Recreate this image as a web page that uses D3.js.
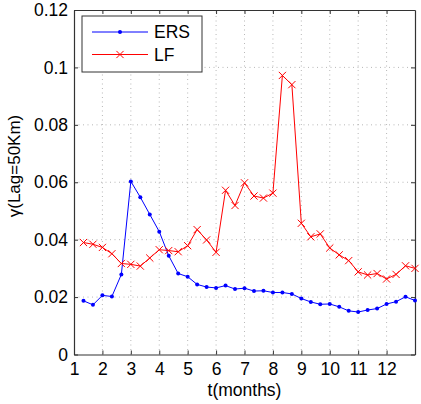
<!DOCTYPE html>
<html>
<head>
<meta charset="utf-8">
<script src="https://cdn.jsdelivr.net/npm/d3@7"></script>
<style>
  body { margin: 0; background: #fff; }
  text { font-family: "Liberation Sans", Arial, sans-serif; fill: #000; }
</style>
</head>
<body>
<div id="chart"></div>
<script>
// three samples per month, month 1 + 1/3 .. 13
const steps = d3.range(1, 37);
const ersValues = [0.0187, 0.0173, 0.0206, 0.0202, 0.0279, 0.0603, 0.0548, 0.0488, 0.0428, 0.0344,
  0.0282, 0.0271, 0.0244, 0.0235, 0.0232, 0.0240, 0.0228, 0.0231, 0.0221, 0.0222,
  0.0216, 0.0216, 0.0211, 0.0195, 0.0183, 0.0175, 0.0176, 0.0166, 0.0152, 0.0148,
  0.0155, 0.0160, 0.0176, 0.0184, 0.0201, 0.0188];
const lfValues = [0.0390, 0.0384, 0.0373, 0.0351, 0.0317, 0.0314, 0.0308, 0.0336, 0.0365, 0.0362,
  0.0358, 0.0379, 0.0435, 0.0399, 0.0356, 0.0572, 0.0519, 0.0598, 0.0552, 0.0545,
  0.0562, 0.0972, 0.0940, 0.0457, 0.0410, 0.0420, 0.0371, 0.0347, 0.0327, 0.0288,
  0.0277, 0.0282, 0.0263, 0.0279, 0.0309, 0.0300];
const xTicks = d3.range(1, 13);
const yTicks = [0, 0.02, 0.04, 0.06, 0.08, 0.1, 0.12];

const width = 421, height = 404;
const margin = { top: 10, right: 6, bottom: 49.5, left: 74 };
const fontSize = "17.5px";

const svg = d3.select("#chart").append("svg")
  .attr("width", width)
  .attr("height", height);

const x = d3.scaleLinear().domain([1, 13]).range([margin.left, width - margin.right]);
const y = d3.scaleLinear().domain([0, 0.12]).range([height - margin.bottom, margin.top]);

const ers = steps.map((s, i) => ({ t: 1 + s / 3, v: ersValues[i] }));
const lf = steps.map((s, i) => ({ t: 1 + s / 3, v: lfValues[i] }));

// dotted grid
const grid = svg.append("g").attr("stroke", "#888").attr("stroke-width", 0.6)
  .attr("stroke-dasharray", "1,3.5");
grid.selectAll("line.gx").data(xTicks.slice(1)).enter().append("line")
  .attr("x1", d => x(d)).attr("x2", d => x(d))
  .attr("y1", y(0)).attr("y2", y(0.12));
grid.selectAll("line.gy").data(yTicks.slice(1, -1)).enter().append("line")
  .attr("x1", x(1)).attr("x2", x(13))
  .attr("y1", d => y(d)).attr("y2", d => y(d));

// axes with inward ticks
const tickLen = 4;
const axBottom = svg.append("g").attr("transform", `translate(0,${y(0)})`)
  .call(d3.axisBottom(x).tickValues(xTicks).tickSizeInner(-tickLen).tickSizeOuter(0).tickPadding(8).tickFormat(d3.format("d")));
const axTop = svg.append("g").attr("transform", `translate(0,${y(0.12)})`)
  .call(d3.axisTop(x).tickValues(xTicks).tickSizeInner(-tickLen).tickSizeOuter(0).tickFormat(""));
const axLeft = svg.append("g").attr("transform", `translate(${x(1)},0)`)
  .call(d3.axisLeft(y).tickValues(yTicks).tickSizeInner(-tickLen).tickSizeOuter(0).tickPadding(6).tickFormat(d => d === 0 ? "0" : String(+d.toFixed(2))));
const axRight = svg.append("g").attr("transform", `translate(${x(13)},0)`)
  .call(d3.axisRight(y).tickValues(yTicks).tickSizeInner(-tickLen).tickSizeOuter(0).tickFormat(""));

[axBottom, axTop, axLeft, axRight].forEach(g => {
  g.selectAll(".domain").attr("stroke", "#333").attr("stroke-width", 1.2);
  g.selectAll(".tick line").attr("stroke", "#333");
  g.selectAll("text").attr("font-size", fontSize).attr("fill", "#222")
    .style("font-family", '"Liberation Sans", Arial, sans-serif');
});
axBottom.selectAll("text").attr("dy", "0.7em");

// lines
const line = d3.line().x(d => x(d.t)).y(d => y(d.v));
svg.append("path").datum(ers).attr("fill", "none").attr("stroke", "#0000ff")
  .attr("stroke-width", 1).attr("d", line);
svg.append("path").datum(lf).attr("fill", "none").attr("stroke", "#ff0000")
  .attr("stroke-width", 1).attr("d", line);

svg.append("g").selectAll("circle").data(ers).enter().append("circle")
  .attr("cx", d => x(d.t)).attr("cy", d => y(d.v)).attr("r", 2)
  .attr("fill", "#0000ff");

const xs = 3.6;
const crossPath = (cx, cy) => `M${cx - xs},${cy - xs}L${cx + xs},${cy + xs}M${cx - xs},${cy + xs}L${cx + xs},${cy - xs}`;
svg.append("g").selectAll("path").data(lf).enter().append("path")
  .attr("d", d => crossPath(x(d.t), y(d.v)))
  .attr("stroke", "#ff0000").attr("stroke-width", 1).attr("fill", "none");

// legend
const legend = svg.append("g");
legend.append("rect").attr("x", 82).attr("y", 16).attr("width", 120).attr("height", 56)
  .attr("fill", "#fff").attr("stroke", "#333").attr("stroke-width", 1);
const items = [
  { name: "ERS", color: "#0000ff", y: 32 },
  { name: "LF", color: "#ff0000", y: 54.5 }
];
items.forEach(it => {
  legend.append("line").attr("x1", 92).attr("x2", 148).attr("y1", it.y).attr("y2", it.y)
    .attr("stroke", it.color).attr("stroke-width", 1);
  if (it.name === "ERS") {
    legend.append("circle").attr("cx", 120).attr("cy", it.y).attr("r", 2).attr("fill", it.color);
  } else {
    legend.append("path").attr("d", crossPath(120, it.y)).attr("stroke", it.color).attr("fill", "none");
  }
  legend.append("text").attr("x", 154).attr("y", it.y).attr("dy", "0.36em")
    .attr("font-size", fontSize).text(it.name);
});

// axis titles
svg.append("text").attr("x", (x(1) + x(13)) / 2).attr("y", 396)
  .attr("text-anchor", "middle").attr("font-size", fontSize).text("t(months)");
svg.append("text").attr("transform", "translate(20,166) rotate(-90)")
  .attr("text-anchor", "middle").attr("font-size", "17px").text("γ(Lag=50Km)");
</script>
</body>
</html>
